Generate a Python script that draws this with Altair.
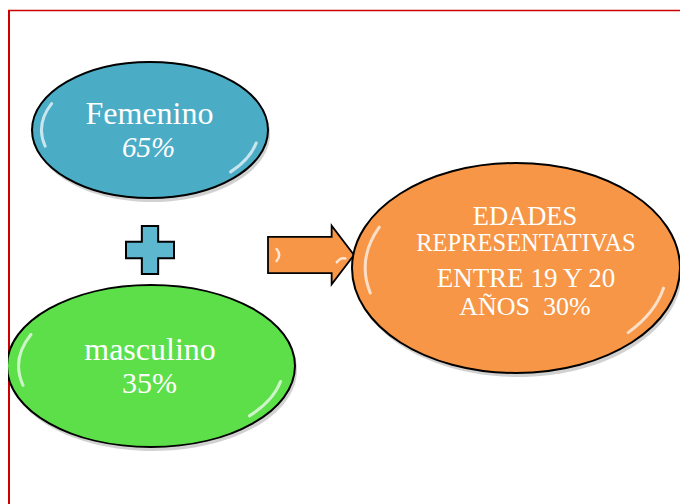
import altair as alt
import pandas as pd
import math

# ---------------- content ----------------
node_names = ["Femenino", "masculino", "EDADES REPRESENTATIVAS"]
node_values = [65, 35, 30]
result_range = "ENTRE 19 Y 20"
result_unit = "AÑOS"
node_colors = ["#4bacc6", "#5ddf4a", "#f79646"]
plus_color = "#5db7cf"
arrow_color = "#f79646"
frame_color = "#cc0000"
text_font = "Liberation Serif"

# ---------------- layout (screen pixels) ----------------
node_cx = [150, 151, 516]
node_cy = [130, 366, 268]
node_rx = [118, 144, 164]
node_ry = [68, 81, 105]

plus_cx, plus_cy, plus_side = 150, 250, 48
arrow_cx, arrow_cy, arrow_side = 311, 255, 86

XS = alt.Scale(domain=[8, 680])
YS = alt.Scale(domain=[8, 504], reverse=True)
K = 0.5523


def ellipse_path(r):
    k = K
    return (f"M -1 0 C -1 {-k*r:.4f} {-k:.4f} {-r:.4f} 0 {-r:.4f} "
            f"C {k:.4f} {-r:.4f} 1 {-k*r:.4f} 1 0 "
            f"C 1 {k*r:.4f} {k:.4f} {r:.4f} 0 {r:.4f} "
            f"C {-k:.4f} {r:.4f} -1 {k*r:.4f} -1 0 Z")


def arc_path(r, a1, a2, s=0.92):
    p1 = (s*math.cos(math.radians(a1)), s*r*math.sin(math.radians(a1)))
    p2 = (s*math.cos(math.radians(a2)), s*r*math.sin(math.radians(a2)))
    am = (a1 + a2) / 2
    pm = (s*math.cos(math.radians(am)), s*r*math.sin(math.radians(am)))
    c = (2*pm[0] - (p1[0]+p2[0])/2, 2*pm[1] - (p1[1]+p2[1])/2)
    return f"M {p1[0]:.4f} {p1[1]:.4f} Q {c[0]:.4f} {c[1]:.4f} {p2[0]:.4f} {p2[1]:.4f}"


def point_layer(df, path, **mk):
    return alt.Chart(df).mark_point(shape=path, **mk).encode(
        x=alt.X("x:Q", scale=XS, axis=None),
        y=alt.Y("y:Q", scale=YS, axis=None),
        size=alt.Size("s:Q", scale=None, legend=None),
    )


layers = []

# frame
frame_top = pd.DataFrame({"x": [8], "x2": [680], "y": [10.5]})
frame_left = pd.DataFrame({"x": [9], "y": [10], "y2": [504]})
layers.append(alt.Chart(frame_top).mark_rule(color=frame_color, strokeWidth=1.5).encode(
    x=alt.X("x:Q", scale=XS, axis=None), x2="x2:Q", y=alt.Y("y:Q", scale=YS, axis=None)))
layers.append(alt.Chart(frame_left).mark_rule(color=frame_color, strokeWidth=2).encode(
    x=alt.X("x:Q", scale=XS, axis=None), y=alt.Y("y:Q", scale=YS, axis=None), y2="y2:Q"))

# plus sign
t = 0.34
plus_path = (f"M {-t} -1 H {t} V {-t} H 1 V {t} H {t} V 1 H {-t} V {t} H -1 V {-t} H {-t} Z")
plus_df = pd.DataFrame({"x": [plus_cx], "y": [plus_cy], "s": [plus_side**2]})
layers.append(point_layer(plus_df, plus_path, filled=True, fill=plus_color, stroke="black",
                          strokeWidth=2, opacity=1, fillOpacity=1))

# arrow
arrow_path = "M -1 -0.42 H 0.48 V -0.68 L 1 0 L 0.48 0.68 V 0.42 H -1 Z"
arrow_df = pd.DataFrame({"x": [arrow_cx], "y": [arrow_cy], "s": [arrow_side**2]})
layers.append(point_layer(arrow_df, arrow_path, filled=True, fill=arrow_color, stroke="black",
                          strokeWidth=1.8, opacity=1, fillOpacity=1))
for a_path in ["M -0.8 -0.14 Q -0.68 0 -0.8 0.14", "M 0.6 0.17 Q 0.68 0.05 0.8 0.08"]:
    layers.append(point_layer(arrow_df, a_path, filled=False, stroke="white",
                              strokeWidth=2.5, opacity=0.75, strokeCap="round"))

# ellipses
for i in range(3):
    r = node_ry[i] / node_rx[i]
    path = ellipse_path(r)
    side2 = (2 * node_rx[i]) ** 2
    sh = pd.DataFrame({"x": [node_cx[i] + 2], "y": [node_cy[i] + 4], "s": [side2]})
    layers.append(point_layer(sh, path, filled=True, fill="#000000", strokeWidth=0,
                              opacity=0.18))
    df = pd.DataFrame({"x": [node_cx[i]], "y": [node_cy[i]], "s": [side2]})
    layers.append(point_layer(df, path, filled=True, fill=node_colors[i], stroke="black",
                              strokeWidth=2, opacity=1, fillOpacity=1))
    for a1, a2 in [(165, 205), (12, 42)]:
        layers.append(point_layer(df, arc_path(r, a1, a2), filled=False, stroke="white",
                                  strokeWidth=3, opacity=0.7, strokeCap="round"))

# texts
text_lines = [
    node_names[0], f"{node_values[0]}%",
    node_names[1], f"{node_values[1]}%",
    node_names[2].split(" ")[0], node_names[2].split(" ")[1],
    result_range, f"{result_unit}\u00a0 {node_values[2]}%",
]
text_x = [149.5, 148.5, 150, 149.5, 525, 526, 526, 525]
text_y = [124, 157, 360, 393, 225, 251, 287, 315]
text_size = [32, 29, 32, 30, 26.5, 24.5, 27, 26]
text_italic = [False, True, False, False, False, False, False, False]
tdf = pd.DataFrame({"t": text_lines, "x": text_x, "y": text_y, "fs": text_size,
                    "it": text_italic})
for style, flag in [("normal", False), ("italic", True)]:
    layers.append(alt.Chart(tdf[tdf.it == flag]).mark_text(
        font=text_font, color="white", baseline="alphabetic", align="center",
        fontStyle=style).encode(
        x=alt.X("x:Q", scale=XS, axis=None),
        y=alt.Y("y:Q", scale=YS, axis=None),
        text="t:N",
        size=alt.Size("fs:Q", scale=None, legend=None),
    ))

chart = alt.layer(*layers).properties(
    width=672, height=496, padding=0, autosize="none", background="white"
).configure_view(stroke=None)

chart.save("out.html", embed_options={"renderer": "svg", "actions": False})
